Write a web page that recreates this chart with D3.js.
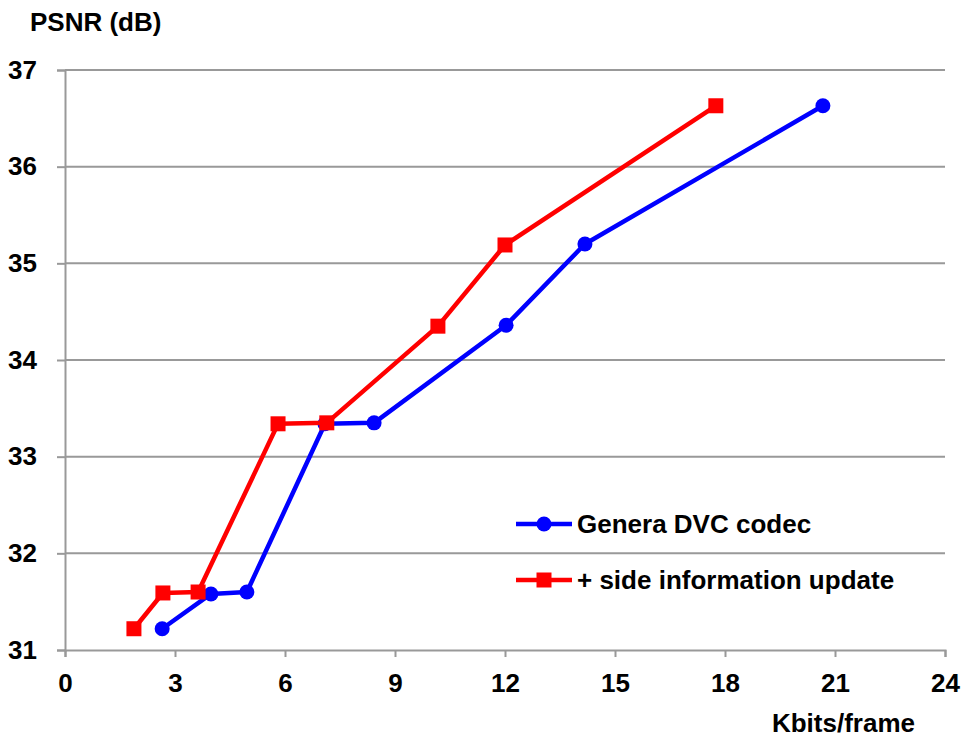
<!DOCTYPE html>
<html>
<head>
<meta charset="utf-8">
<script src="https://cdn.jsdelivr.net/npm/d3@7"></script>
<style>
  body { margin: 0; background: #fff; }
  text { font-family: "Liberation Sans", Arial, sans-serif; font-weight: bold; }
</style>
</head>
<body>
<svg id="chart"></svg>
<script>
// Genera DVC codec
const baseRate = [2.65, 3.98, 4.96, 7.09, 8.43, 12.03, 14.18, 20.67]
const basePsnr = [31.22, 31.58, 31.60, 33.34, 33.35, 34.36, 35.20, 36.63]

// + side information update
const siRate = [1.88, 2.67, 3.63, 5.81, 7.14, 10.17, 12.0, 17.75]
const siPsnr = [31.22, 31.59, 31.60, 33.34, 33.35, 34.35, 35.19, 36.63]

const xTicks = [0, 3, 6, 9, 12, 15, 18, 21, 24]
const yTicks = [31, 32, 33, 34, 35, 36, 37]

const width = 963, height = 740
const margin = {left: 65, right: 18, top: 70, bottom: 90}
const fontSize = "26px"

const svg = d3.select("#chart")
  .attr("width", width)
  .attr("height", height)

const x = d3.scaleLinear().domain([0, 24]).range([margin.left, width - margin.right])
const y = d3.scaleLinear().domain([31, 37]).range([height - margin.bottom, margin.top])

// gridlines
svg.append("g")
  .selectAll("line")
  .data(yTicks.slice(1))
  .enter().append("line")
  .attr("x1", x(0))
  .attr("x2", x(24))
  .attr("y1", d => y(d))
  .attr("y2", d => y(d))
  .attr("stroke", "#999")
  .attr("stroke-width", 2)

const xAxis = svg.append("g")
  .attr("transform", `translate(0,${y(31)})`)
  .call(d3.axisBottom(x).tickValues(xTicks).tickFormat(d3.format("d")).tickSize(7).tickPadding(17))

const yAxis = svg.append("g")
  .attr("transform", `translate(${x(0)},0)`)
  .call(d3.axisLeft(y).tickValues(yTicks).tickFormat(d3.format("d")).tickSize(8).tickPadding(20))

for (const ax of [xAxis, yAxis]) {
  ax.select(".domain").attr("stroke", "#999").attr("stroke-width", 2)
  ax.selectAll(".tick line").attr("stroke", "#999").attr("stroke-width", 2)
  ax.selectAll(".tick text")
    .attr("fill", "#000")
    .style("font-size", fontSize)
    .style("font-family", '"Liberation Sans", Arial, sans-serif')
    .style("font-weight", "bold")
}

svg.append("text")
  .attr("x", 30)
  .attr("y", 31)
  .style("font-size", fontSize)
  .text("PSNR (dB)")

svg.append("text")
  .attr("x", 915)
  .attr("y", 732)
  .attr("text-anchor", "end")
  .style("font-size", fontSize)
  .text("Kbits/frame")

const series = [
  {name: "Genera DVC codec", color: "#0000ff", shape: "circle",
    points: baseRate.map((r, i) => [r, basePsnr[i]])},
  {name: "+ side information update", color: "#ff0000", shape: "square",
    points: siRate.map((r, i) => [r, siPsnr[i]])}
]

const line = d3.line().x(d => x(d[0])).y(d => y(d[1]))

function marker(g, shape, color, cx, cy) {
  if (shape === "circle") {
    g.append("circle").attr("cx", cx).attr("cy", cy).attr("r", 7.5).attr("fill", color)
  } else {
    g.append("rect").attr("x", cx - 7.5).attr("y", cy - 7.5)
      .attr("width", 15).attr("height", 15).attr("fill", color)
  }
}

series.forEach(s => {
  const g = svg.append("g")
  g.append("path")
    .datum(s.points)
    .attr("d", line)
    .attr("fill", "none")
    .attr("stroke", s.color)
    .attr("stroke-width", 4.5)
    .attr("stroke-linejoin", "round")
  s.points.forEach(p => marker(g, s.shape, s.color, x(p[0]), y(p[1])))
})

// legend
const legend = svg.append("g").attr("transform", "translate(516,524)")
series.forEach((s, i) => {
  const g = legend.append("g").attr("transform", `translate(0,${i * 56})`)
  g.append("line")
    .attr("x1", 0).attr("x2", 56)
    .attr("stroke", s.color).attr("stroke-width", 4.5)
  marker(g, s.shape, s.color, 28, 0)
  g.append("text")
    .attr("x", 61)
    .attr("y", 9)
    .style("font-size", fontSize)
    .text(s.name)
})
</script>
</body>
</html>
